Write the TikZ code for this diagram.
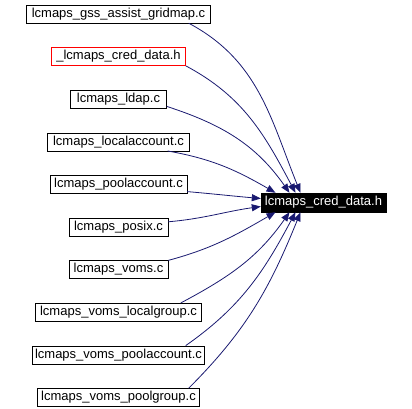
\documentclass[tikz,border=0pt]{standalone}
\usepackage{fontspec}
\setmainfont{Liberation Sans}
\usetikzlibrary{arrows.meta}
\definecolor{depline}{HTML}{191970}
\definecolor{fileline}{HTML}{000000}
\definecolor{hdrline}{HTML}{FF0000}
\tikzset{
  file/.style  = {rectangle, draw=fileline, fill=white, align=center,
                  font=\fontsize{13pt}{15pt}\selectfont, minimum height=18pt, inner sep=1pt},
  hdrfile/.style={file, draw=hdrline},
  target/.style= {file, fill=black, text=white, minimum height=19pt},
  dep/.style   = {{Triangle[length=9pt,width=7pt]}-, draw=depline, line width=0.8pt},
}
\begin{document}
\begin{tikzpicture}[x=1pt, y=1pt]
  \useasboundingbox (0,0) rectangle (412,-409);
  \foreach \i/\w/\nm in {
    0/184/{lcmaps\_gss\_assist\_gridmap.c},
    2/96/{lcmaps\_ldap.c},
    3/142/{lcmaps\_localaccount.c},
    4/137/{lcmaps\_poolaccount.c},
    5/99/{lcmaps\_posix.c},
    6/99/{lcmaps\_voms.c},
    7/166/{lcmaps\_voms\_localgroup.c},
    8/172/{lcmaps\_voms\_poolaccount.c},
    9/162/{lcmaps\_voms\_poolgroup.c}}{
    \node[file, minimum width=\w pt] (n\i) at (118.5,{-14-\i*42.6}) {\nm};
  }
  \node[hdrfile, minimum width=134pt] (n1) at (118.5,-56.6) {\_lcmaps\_cred\_data.h};
  \node[target, minimum width=125pt] (cred) at (323.5,-202.5) {lcmaps\_cred\_data.h};
  % dependency edges, drawn from the header back to each includer
  \draw[dep] ([xshift=-23pt]cred.north) to[out=112,in=-28] ([xshift=-22pt]n0.south east);
  \draw[dep] ([xshift=-28pt]cred.north) to[out=118,in=-28] (n1.south east);
  \draw[dep] ([xshift=-34pt]cred.north) to[out=125,in=-18] ([yshift=2pt]n2.south east);
  \draw[dep] ([xshift=-48pt]cred.north) to[out=150,in=-10] ([xshift=-22pt]n3.south east);
  \draw[dep] ([yshift=4pt]cred.west) to[out=175,in=-5] ([yshift=2pt]n4.south east);
  \draw[dep] ([yshift=-4pt]cred.west) to[out=188,in=5] ([yshift=-4pt]n5.north east);
  \draw[dep] ([xshift=-48pt]cred.south) to[out=210,in=15] (n6.north east);
  \draw[dep] ([xshift=-34pt]cred.south) to[out=235,in=28] ([xshift=-21pt]n7.north east);
  \draw[dep] ([xshift=-28pt]cred.south) to[out=242,in=35] ([xshift=-19pt]n8.north east);
  \draw[dep] ([xshift=-23pt]cred.south) to[out=248,in=45] ([xshift=-11pt]n9.north east);
\end{tikzpicture}
\end{document}
